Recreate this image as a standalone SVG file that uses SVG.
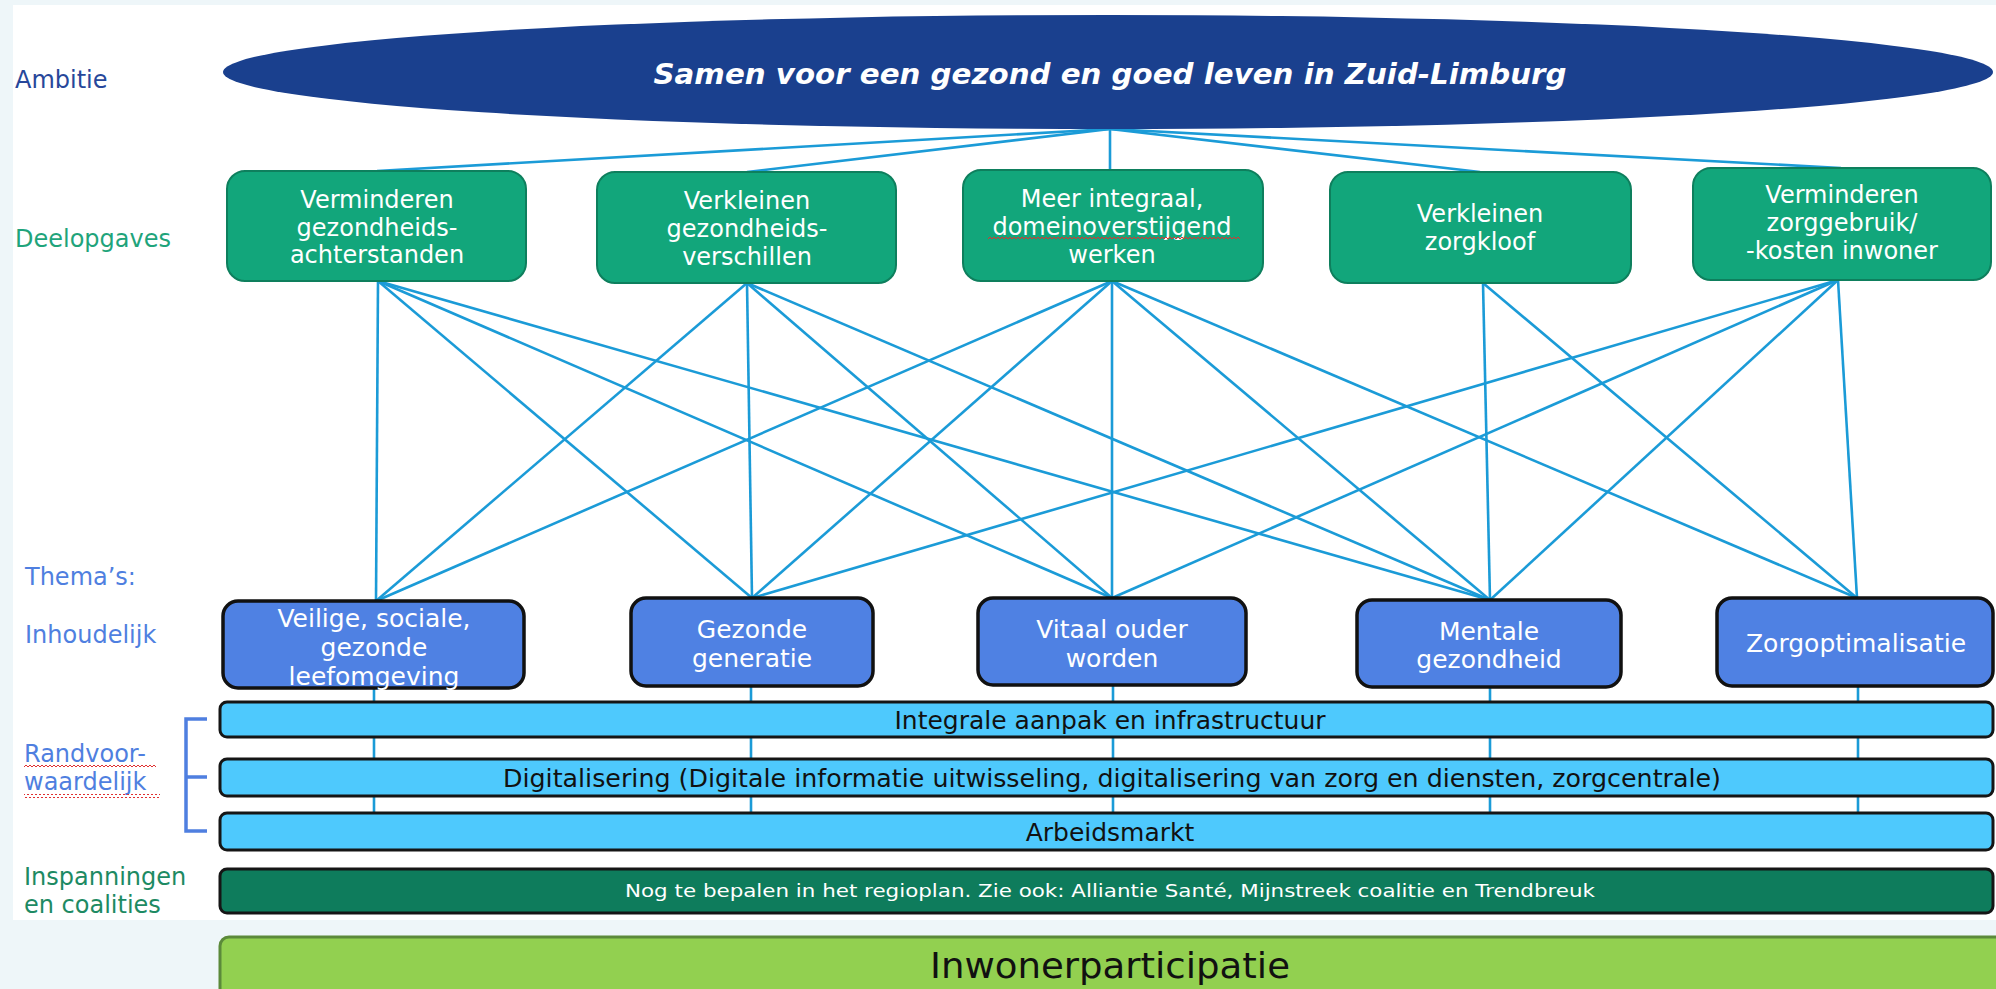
<svg xmlns="http://www.w3.org/2000/svg" width="1996" height="989" viewBox="0 0 1996 989">
<defs>
<style>
.lbl{font-family:"DejaVu Sans","Verdana",sans-serif;font-size:24px}
.dtx{font-family:"DejaVu Sans",sans-serif;font-size:24px;fill:#fff;text-anchor:middle}
.ttx{font-family:"DejaVu Sans",sans-serif;font-size:25px;fill:#fff;text-anchor:middle}
.btx{font-family:"DejaVu Sans",sans-serif;font-size:25px;fill:#111;text-anchor:middle}
.dbox{fill:#12a67b;stroke:#0e7f5d;stroke-width:2}
.tbox{fill:#4f81e3;stroke:#111;stroke-width:3.5}
.bar{fill:#4ec9fd;stroke:#151515;stroke-width:3}
.ln{stroke:#1b9bd7;stroke-width:2.6;fill:none}
</style>
<pattern id="wave" width="4" height="4" patternUnits="userSpaceOnUse"><path d="M0 3 L2 1 L4 3" fill="none" stroke="#e03030" stroke-width="1"/></pattern>
</defs>
<rect x="0" y="0" width="1996" height="989" fill="#eef6f9"/>
<rect x="13" y="5" width="1983" height="915" fill="#ffffff"/>

<g id="labels">
<text class="lbl" x="15" y="88" fill="#27479a">Ambitie</text>
<text class="lbl" x="15" y="247" fill="#1fa47b">Deelopgaves</text>
<text class="lbl" x="25" y="585" fill="#4f7fe0">Thema’s:</text>
<text class="lbl" x="25" y="643" fill="#4f7fe0">Inhoudelijk</text>
<text class="lbl" x="24" y="762" fill="#4f7fe0">Randvoor-</text>
<rect x="24" y="765" width="132" height="4" fill="url(#wave)"/>
<text class="lbl" x="24" y="790" fill="#4f7fe0">waardelijk</text>
<rect x="24" y="794" width="136" height="4" fill="url(#wave)"/>
<text class="lbl" x="24" y="885" fill="#1d8a63">Inspanningen</text>
<text class="lbl" x="24" y="913" fill="#1d8a63">en coalities</text>
<path d="M207 719 H186 V831 H207 M186 777 H207" fill="none" stroke="#4f7fe0" stroke-width="3.5"/>
</g>

<g id="connectors">
<line class="ln" x1="1110" y1="129" x2="377" y2="171"/>
<line class="ln" x1="1110" y1="129" x2="747" y2="172"/>
<line class="ln" x1="1110" y1="129" x2="1110" y2="170"/>
<line class="ln" x1="1110" y1="129" x2="1480" y2="172"/>
<line class="ln" x1="1110" y1="129" x2="1841" y2="168"/>

<line class="ln" x1="378" y1="281" x2="376" y2="601"/>
<line class="ln" x1="378" y1="281" x2="752" y2="598"/>
<line class="ln" x1="378" y1="281" x2="1112" y2="598"/>
<line class="ln" x1="378" y1="281" x2="1490" y2="600"/>

<line class="ln" x1="747" y1="283" x2="376" y2="601"/>
<line class="ln" x1="747" y1="283" x2="752" y2="598"/>
<line class="ln" x1="747" y1="283" x2="1112" y2="598"/>
<line class="ln" x1="747" y1="283" x2="1490" y2="600"/>

<line class="ln" x1="1112" y1="281" x2="376" y2="601"/>
<line class="ln" x1="1112" y1="281" x2="752" y2="598"/>
<line class="ln" x1="1112" y1="281" x2="1112" y2="598"/>
<line class="ln" x1="1112" y1="281" x2="1490" y2="600"/>
<line class="ln" x1="1112" y1="281" x2="1857" y2="598"/>

<line class="ln" x1="1483" y1="283" x2="1490" y2="600"/>
<line class="ln" x1="1483" y1="283" x2="1857" y2="598"/>

<line class="ln" x1="1838" y1="280" x2="752" y2="598"/>
<line class="ln" x1="1838" y1="280" x2="1112" y2="598"/>
<line class="ln" x1="1838" y1="280" x2="1490" y2="600"/>
<line class="ln" x1="1838" y1="280" x2="1857" y2="598"/>

<line class="ln" x1="374" y1="686" x2="374" y2="813"/>
<line class="ln" x1="751" y1="686" x2="751" y2="813"/>
<line class="ln" x1="1113" y1="686" x2="1113" y2="813"/>
<line class="ln" x1="1490" y1="686" x2="1490" y2="813"/>
<line class="ln" x1="1858" y1="686" x2="1858" y2="813"/>
</g>

<g id="ambitie">
<ellipse cx="1108" cy="72" rx="885" ry="57" fill="#1a408e"/>
<text x="1110" y="84" text-anchor="middle" font-family="DejaVu Sans, sans-serif" font-size="28" font-weight="bold" font-style="italic" fill="#fff" textLength="913" lengthAdjust="spacingAndGlyphs">Samen voor een gezond en goed leven in Zuid-Limburg</text>
</g>

<g id="d1"><rect class="dbox" x="227" y="171" width="299" height="110" rx="18"/>
<text class="dtx" x="377" y="208">Verminderen</text><text class="dtx" x="377" y="236">gezondheids-</text><text class="dtx" x="377" y="263">achterstanden</text></g>
<g id="d2"><rect class="dbox" x="597" y="172" width="299" height="111" rx="18"/>
<text class="dtx" x="747" y="209">Verkleinen</text><text class="dtx" x="747" y="237">gezondheids-</text><text class="dtx" x="747" y="265">verschillen</text></g>
<g id="d3"><rect class="dbox" x="963" y="170" width="300" height="111" rx="18"/>
<text class="dtx" x="1112" y="207">Meer integraal,</text><text class="dtx" x="1112" y="235">domeinoverstijgend</text><text class="dtx" x="1112" y="263">werken</text>
<rect x="988" y="237" width="252" height="4" fill="url(#wave)"/></g>
<g id="d4"><rect class="dbox" x="1330" y="172" width="301" height="111" rx="18"/>
<text class="dtx" x="1480" y="222">Verkleinen</text><text class="dtx" x="1480" y="250">zorgkloof</text></g>
<g id="d5"><rect class="dbox" x="1693" y="168" width="298" height="112" rx="18"/>
<text class="dtx" x="1842" y="203">Verminderen</text><text class="dtx" x="1842" y="231">zorggebruik/</text><text class="dtx" x="1842" y="259">-kosten inwoner</text></g>

<g id="t1"><rect class="tbox" x="223" y="601" width="301" height="87" rx="15"/>
<text class="ttx" x="374" y="627">Veilige, sociale,</text><text class="ttx" x="374" y="656">gezonde</text><text class="ttx" x="374" y="685">leefomgeving</text></g>
<g id="t2"><rect class="tbox" x="631" y="598" width="242" height="88" rx="15"/>
<text class="ttx" x="752" y="638">Gezonde</text><text class="ttx" x="752" y="667">generatie</text></g>
<g id="t3"><rect class="tbox" x="978" y="598" width="268" height="87" rx="15"/>
<text class="ttx" x="1112" y="638">Vitaal ouder</text><text class="ttx" x="1112" y="667">worden</text></g>
<g id="t4"><rect class="tbox" x="1357" y="600" width="264" height="87" rx="15"/>
<text class="ttx" x="1489" y="640">Mentale</text><text class="ttx" x="1489" y="668">gezondheid</text></g>
<g id="t5"><rect class="tbox" x="1717" y="598" width="276" height="88" rx="15"/>
<text class="ttx" x="1856" y="652">Zorgoptimalisatie</text></g>

<g id="bar1"><rect class="bar" x="220" y="702" width="1773" height="35" rx="7"/>
<text class="btx" x="1110" y="729">Integrale aanpak en infrastructuur</text></g>
<g id="bar2"><rect class="bar" x="220" y="759" width="1773" height="37" rx="7"/>
<text class="btx" x="1112" y="787" textLength="1218" lengthAdjust="spacingAndGlyphs">Digitalisering (Digitale informatie uitwisseling, digitalisering van zorg en diensten, zorgcentrale)</text></g>
<g id="bar3"><rect class="bar" x="220" y="813" width="1773" height="37" rx="7"/>
<text class="btx" x="1110" y="841">Arbeidsmarkt</text></g>
<g id="bar4"><rect x="220" y="869" width="1773" height="44" rx="7" fill="#0e7c5c" stroke="#151515" stroke-width="3"/>
<text x="1110" y="897" text-anchor="middle" font-family="DejaVu Sans, sans-serif" font-size="18" fill="#fff" textLength="970" lengthAdjust="spacingAndGlyphs">Nog te bepalen in het regioplan. Zie ook: Alliantie Santé, Mijnstreek coalitie en Trendbreuk</text></g>
<g id="inwoner"><rect x="220" y="937" width="1800" height="70" rx="9" fill="#92d050" stroke="#5b8a3a" stroke-width="3"/>
<text x="1110" y="978" text-anchor="middle" font-family="DejaVu Sans, sans-serif" font-size="36" fill="#111" textLength="360" lengthAdjust="spacingAndGlyphs">Inwonerparticipatie</text></g>
</svg>
